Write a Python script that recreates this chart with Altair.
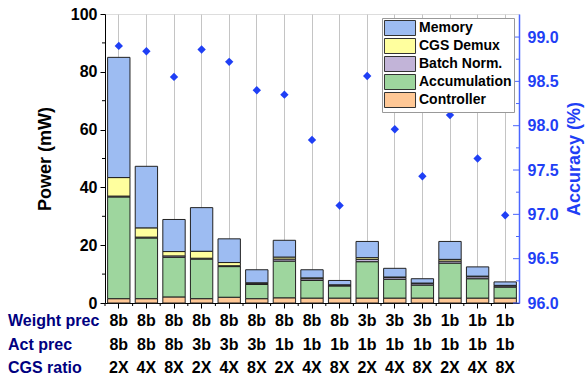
import altair as alt
import pandas as pd

# Configurations along the x axis
weight_prec = ["8b", "8b", "8b", "8b", "8b", "8b", "8b", "8b", "8b", "3b", "3b", "3b", "1b", "1b", "1b"]
act_prec = ["8b", "8b", "8b", "3b", "3b", "3b", "1b", "1b", "1b", "1b", "1b", "1b", "1b", "1b", "1b"]
cgs_ratio = ["2X", "4X", "8X", "2X", "4X", "8X", "2X", "4X", "8X", "2X", "4X", "8X", "2X", "4X", "8X"]

# Power breakdown (mW), bottom to top of each stack
components = ["Controller", "Accumulation", "Batch Norm.", "CGS Demux", "Memory"]
controller = [1.5, 1.5, 2.1, 1.5, 2.0, 1.5, 1.8, 1.7, 1.7, 1.7, 1.7, 1.7, 1.7, 1.7, 1.7]
accumulation = [35.2, 21.0, 13.7, 13.7, 10.6, 4.9, 12.7, 6.1, 4.2, 12.6, 6.5, 4.5, 12.1, 6.7, 3.8]
batch_norm = [0.3, 0.3, 0.5, 0.3, 0.3, 0.3, 0.7, 0.6, 0.3, 0.8, 0.6, 0.5, 0.7, 0.7, 0.4]
cgs_demux = [6.4, 3.2, 1.5, 2.4, 1.1, 0.3, 0.7, 0.3, 0.1, 0.6, 0.2, 0.2, 0.6, 0.2, 0.2]
memory = [41.6, 21.3, 11.1, 15.1, 8.2, 4.5, 5.8, 2.8, 1.5, 5.6, 3.0, 1.5, 6.2, 3.2, 1.2]

# Accuracy (%) per configuration
accuracy = [98.90, 98.84, 98.55, 98.86, 98.72, 98.40, 98.35, 97.84, 97.10,
            98.56, 97.96, 97.43, 98.12, 97.63, 96.99]

# Axis ticks
power_ticks = [0, 20, 40, 60, 80, 100]
power_minor = [10, 30, 50, 70, 90]
acc_ticks = [96.0, 96.5, 97.0, 97.5, 98.0, 98.5, 99.0]
acc_minor = [96.25, 96.75, 97.25, 97.75, 98.25, 98.75]

row_names = ["Weight prec", "Act prec", "CGS ratio"]

FONT = "Liberation Sans"
BLUE = "#1f3ff5"
AXIS_BLUE = "#4a66ff"
W, H = 414, 289

n = len(cgs_ratio)
ids = list(range(n))
comp_values = [controller, accumulation, batch_norm, cgs_demux, memory]
rows = []
for k, (name, vals) in enumerate(zip(components, comp_values)):
    for i, v in enumerate(vals):
        rows.append({"id": i, "component": name, "power": v, "stack": k})
power_df = pd.DataFrame(rows)
cfg_df = pd.DataFrame({"id": ids, "weight": weight_prec, "act": act_prec,
                       "cgs": cgs_ratio, "acc": accuracy})

legend_order = list(reversed(components))
palette = {"Memory": "#9dbcf2", "CGS Demux": "#ffff9e", "Batch Norm.": "#c2b4d8",
           "Accumulation": "#9ed69e", "Controller": "#ffc896"}

x_scale = alt.Scale(domain=ids, paddingInner=0, paddingOuter=0)
x_axis = alt.Axis(title=None, labels=False, ticks=True, tickSize=5,
                  tickColor="black", domain=True, domainColor="black",
                  grid=True, gridColor="#c4c4c4", gridWidth=1)
x_main = alt.X("id:O", scale=x_scale, axis=x_axis)

power_scale = alt.Scale(domain=[0, 100], nice=False)
power_axis = alt.Axis(title="Power (mW)", values=power_ticks, tickSize=5,
                      tickColor="black", domainColor="black", grid=False,
                      labelFont=FONT, labelFontSize=16, labelFontWeight="bold",
                      labelColor="black", labelPadding=3,
                      titleFont=FONT, titleFontSize=18, titleFontWeight="bold",
                      titleColor="black", titlePadding=16)
acc_scale = alt.Scale(domain=[96, 99.26], nice=False, zero=False)
acc_axis = alt.Axis(orient="right", title="Accuracy (%)", values=acc_ticks,
                    format=".1f", ticks=False, tickSize=0, domainColor=AXIS_BLUE,
                    domainWidth=1.5, grid=False,
                    labelFont=FONT, labelFontSize=16, labelFontWeight="bold",
                    labelColor=BLUE, labelPadding=8,
                    titleFont=FONT, titleFontSize=18, titleFontWeight="bold",
                    titleColor=BLUE, titleAngle=270, titleBaseline="top",
                    titlePadding=7)

bars = alt.Chart(power_df).mark_bar(
    width=alt.RelativeBandSize(0.81), stroke="#222", strokeWidth=1, opacity=1
).encode(
    x=x_main,
    y=alt.Y("sum(power):Q", scale=power_scale, stack="zero", axis=power_axis),
    color=alt.Color("component:N",
                    scale=alt.Scale(domain=legend_order,
                                    range=[palette[c] for c in legend_order]),
                    legend=alt.Legend(orient="none", legendX=277, legendY=4, title=None,
                                      symbolType="M-2.07,-1H2.07V1H-2.07Z", symbolSize=225,
                                      symbolStrokeColor="#333", symbolStrokeWidth=1,
                                      symbolOpacity=1, symbolOffset=8,
                                      labelFont=FONT, labelFontSize=14,
                                      labelFontWeight="bold", labelColor="black",
                                      labelOffset=11, padding=2, rowPadding=-2,
                                      strokeColor="#999", fillColor="white")),
    order=alt.Order("stack:Q", sort="ascending"),
)

power_minor_ticks = alt.Chart(pd.DataFrame({"v": power_minor})).mark_rule(
    color="black", strokeWidth=1
).encode(
    y=alt.Y("v:Q", scale=power_scale, axis=power_axis),
    x=alt.value(-3), x2=alt.value(0),
)

x_minor_ticks = alt.Chart(cfg_df).mark_rule(color="black", strokeWidth=1).encode(
    x=alt.X("id:O", scale=x_scale, axis=x_axis, bandPosition=0),
    y=alt.value(H), y2=alt.value(H + 3),
)

table_layers = []
for field, ypos in zip(["weight", "act", "cgs"], [307, 331, 354]):
    table_layers.append(
        alt.Chart(cfg_df).mark_text(font=FONT, fontSize=16, fontWeight="bold",
                                    color="black", baseline="middle").encode(
            x=x_main, y=alt.value(ypos), text=f"{field}:N")
    )
row_df = pd.DataFrame({"label": row_names})
for name, ypos in zip(row_names, [307, 331, 354]):
    table_layers.append(
        alt.Chart(row_df[row_df.label == name]).mark_text(
            font=FONT, fontSize=16, fontWeight="bold", color="#000080",
            align="left", baseline="middle").encode(
            x=alt.value(-97), y=alt.value(ypos), text="label:N")
    )

left = alt.layer(bars, power_minor_ticks, x_minor_ticks, *table_layers)

points = alt.Chart(cfg_df).mark_point(
    shape="diamond", filled=True, size=70, color=BLUE, opacity=1
).encode(
    x=x_main,
    y=alt.Y("acc:Q", scale=acc_scale, axis=acc_axis),
)

acc_major = alt.Chart(pd.DataFrame({"v": acc_ticks})).mark_rule(
    color=AXIS_BLUE, strokeWidth=1
).encode(y=alt.Y("v:Q", scale=acc_scale, axis=acc_axis), x=alt.value(W - 6), x2=alt.value(W))

acc_minor_ticks = alt.Chart(pd.DataFrame({"v": acc_minor})).mark_rule(
    color=AXIS_BLUE, strokeWidth=1
).encode(y=alt.Y("v:Q", scale=acc_scale, axis=acc_axis), x=alt.value(W - 3), x2=alt.value(W))

right = alt.layer(points, acc_major, acc_minor_ticks)

chart = alt.layer(left, right).resolve_scale(y="independent").properties(
    width=W, height=H,
    autosize=alt.AutoSizeParams(type="none"),
    padding={"left": 105, "top": 14, "right": 66, "bottom": 78},
).configure_view(stroke="black", strokeWidth=1).configure(background="white")

chart.save("out.html", embed_options={"renderer": "svg", "actions": False})
